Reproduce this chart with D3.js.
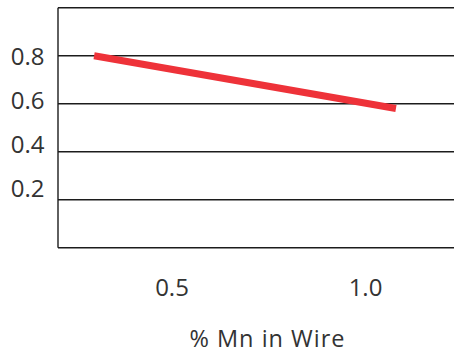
<!DOCTYPE html>
<html>
<head>
<meta charset="utf-8">
<script src="https://cdn.jsdelivr.net/npm/d3@7"></script>
<style>
  html, body { margin: 0; padding: 0; background: #fff; }
  svg { display: block; }
  text { font-family: "Open Sans", "Noto Sans", sans-serif; fill: #333; }
</style>
</head>
<body>
<svg id="chart" width="454" height="352"></svg>
<script>
// Data
const xValues = [0.3, 1.08];
const yValues = [0.8, 0.58];
const xTicks = [0.5, 1.0];
const xTickLabels = ["0.5", "1.0"];
const yTicks = [0.2, 0.4, 0.6, 0.8];
const yTickLabels = ["0.2", "0.4", "0.6", "0.8"];
const xTitle = "% Mn in Wire";

const svg = d3.select("#chart");
const W = 454;
const plotLeft = 58, plotTop = 7.7, plotBottom = 247.7;
const FONT = '"Open Sans", "Noto Sans", sans-serif';

const x = d3.scaleLinear().domain([0.2, 1.2]).range([55.4, 442.4]);
const y = d3.scaleLinear().domain([0, 1]).range([plotBottom, plotTop]);
// label placement scale (labels in reference are slightly compressed vs gridlines)
const yLab = d3.scaleLinear().domain([0.2, 0.8]).range([189, 57.3]);

// gridlines (including top line at 1.0 and baseline at 0)
const gridVals = [0].concat(yTicks, [1]);
svg.append("g").selectAll("line").data(gridVals).join("line")
  .attr("x1", plotLeft).attr("x2", W)
  .attr("y1", d => y(d)).attr("y2", d => y(d))
  .attr("stroke", "#1c1c1c").attr("stroke-width", 1.6);

// left axis line
svg.append("line")
  .attr("x1", plotLeft).attr("x2", plotLeft)
  .attr("y1", y(1)).attr("y2", y(0))
  .attr("stroke", "#1c1c1c").attr("stroke-width", 1.4);

// y tick labels
const yAxis = d3.axisLeft(yLab).tickValues(yTicks)
  .tickFormat((d, i) => yTickLabels[i]).tickSize(0).tickPadding(0);
const gy = svg.append("g").attr("transform", "translate(44.5,0)").call(yAxis);
gy.select(".domain").remove();
gy.selectAll("text").attr("font-size", 24).attr("fill", "#333")
  .style("font-family", FONT);

// x tick labels
const xAxis = d3.axisBottom(x).tickValues(xTicks)
  .tickFormat((d, i) => xTickLabels[i]).tickSize(0).tickPadding(0);
const gx = svg.append("g").attr("transform", "translate(0,279)").call(xAxis);
gx.select(".domain").remove();
gx.selectAll("text").attr("font-size", 24).attr("fill", "#333")
  .style("font-family", FONT);

// x title
svg.append("text")
  .attr("x", 267.5).attr("y", 346.5)
  .attr("text-anchor", "middle")
  .attr("font-size", 23.5)
  .attr("letter-spacing", 1)
  .text(xTitle);

// data line
const pts = xValues.map((v, i) => [v, yValues[i]]);
svg.append("path")
  .datum(pts)
  .attr("d", d3.line().x(d => x(d[0])).y(d => y(d[1])))
  .attr("fill", "none")
  .attr("stroke", "#ee3239")
  .attr("stroke-width", 7);
</script>
</body>
</html>
